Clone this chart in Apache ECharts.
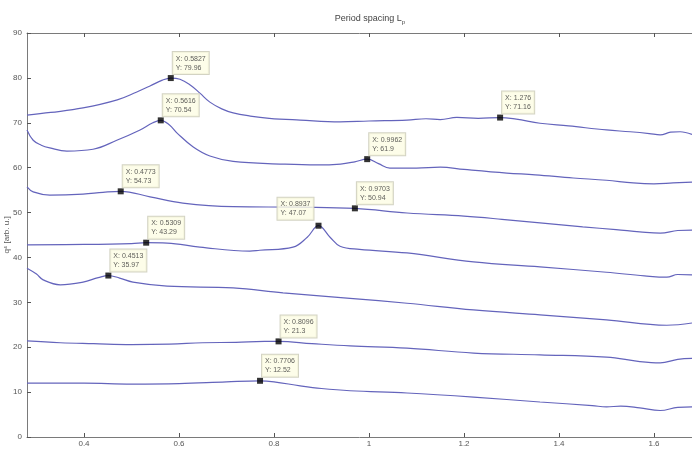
<!DOCTYPE html>
<html>
<head>
<meta charset="utf-8">
<script src="https://cdn.jsdelivr.net/npm/echarts@6/dist/echarts.min.js"></script>
<style>
  html, body { margin: 0; padding: 0; background: #fff; }
  #chart { width: 692px; height: 452px; }
</style>
</head>
<body>
<div id="chart"></div>
<script>
// curves, top to bottom (x in nm^-1, y in arb. u.)
var c1x = [0.28, 0.33, 0.398, 0.47, 0.51, 0.539, 0.565, 0.5827, 0.602, 0.625, 0.644, 0.665, 0.69, 0.714, 0.75, 0.79, 0.855, 0.939, 1.0, 1.08, 1.12, 1.15, 1.185, 1.23, 1.276, 1.31, 1.36, 1.42, 1.5, 1.55, 1.59, 1.613, 1.635, 1.655, 1.68];
var c1y = [71.7, 72.3, 73.3, 75.1, 76.8, 78.2, 79.5, 79.96, 79.7, 78.3, 76.6, 74.6, 73.1, 72.2, 71.5, 71.0, 70.6, 70.2, 70.4, 70.6, 70.9, 70.7, 71.2, 71.0, 71.16, 70.8, 69.9, 69.3, 68.4, 68.0, 67.6, 67.3, 67.9, 68.0, 67.4];

var c2x = [0.28, 0.293, 0.31, 0.328, 0.364, 0.419, 0.469, 0.518, 0.545, 0.5616, 0.58, 0.596, 0.63, 0.665, 0.714, 0.819, 0.89, 0.94, 0.97, 0.9962, 1.02, 1.044, 1.1, 1.15, 1.2, 1.29, 1.35, 1.43, 1.5, 1.556, 1.6, 1.64, 1.68];
var c2y = [68.4, 66.1, 65.0, 64.4, 63.7, 64.1, 66.1, 68.4, 70.0, 70.54, 69.5, 67.7, 64.6, 62.6, 61.4, 60.8, 60.6, 60.8, 61.3, 61.9, 60.9, 59.9, 59.9, 60.1, 59.6, 58.8, 58.4, 57.7, 57.2, 56.6, 56.4, 56.6, 56.8];

var c3x = [0.28, 0.293, 0.328, 0.398, 0.44, 0.4773, 0.539, 0.608, 0.714, 0.855, 0.9703, 1.08, 1.2, 1.28, 1.36, 1.45, 1.52, 1.57, 1.613, 1.65, 1.68];
var c3y = [55.7, 54.6, 53.9, 54.1, 54.5, 54.73, 53.5, 52.1, 51.3, 51.2, 50.94, 49.9, 49.2, 48.5, 47.7, 46.8, 46.2, 45.7, 45.4, 46.0, 46.1];

var c4x = [0.28, 0.4, 0.5, 0.5309, 0.575, 0.644, 0.749, 0.77, 0.84, 0.87, 0.8937, 0.918, 0.939, 0.98, 1.08, 1.22, 1.36, 1.5, 1.58, 1.627, 1.65, 1.68];
var c4y = [42.8, 42.9, 43.1, 43.29, 43.2, 42.3, 41.4, 41.6, 42.3, 44.5, 47.07, 44.5, 42.5, 41.8, 41.0, 39.0, 37.9, 36.7, 35.9, 35.6, 36.2, 36.1];

var c5x = [0.28, 0.3, 0.314, 0.35, 0.398, 0.43, 0.4513, 0.475, 0.503, 0.575, 0.714, 0.819, 0.96, 1.08, 1.22, 1.36, 1.5, 1.627, 1.68];
var c5y = [37.6, 36.3, 35.0, 33.9, 34.5, 35.5, 35.97, 35.4, 34.5, 33.6, 33.2, 32.1, 30.9, 29.8, 28.3, 27.2, 26.1, 24.9, 25.4];

var c6x = [0.28, 0.35, 0.42, 0.5, 0.58, 0.65, 0.72, 0.78, 0.8096, 0.88, 0.96, 1.08, 1.22, 1.36, 1.5, 1.57, 1.613, 1.65, 1.68];
var c6y = [21.4, 21.0, 20.8, 20.6, 20.7, 21.0, 21.1, 21.3, 21.3, 20.8, 20.3, 19.8, 18.7, 18.3, 17.8, 16.8, 16.5, 17.3, 17.5];

var c7x = [0.28, 0.4, 0.5, 0.6, 0.7, 0.7706, 0.8, 0.855, 0.9, 0.96, 1.08, 1.22, 1.36, 1.47, 1.5, 1.53, 1.57, 1.613, 1.65, 1.68];
var c7y = [12.0, 12.0, 11.8, 11.9, 12.3, 12.52, 12.3, 11.4, 10.8, 10.3, 9.8, 8.9, 7.8, 7.0, 6.7, 6.9, 6.5, 5.9, 6.6, 6.7];

// data tips
var tipX = [0.5827, 1.276, 0.5616, 0.9962, 0.4773, 0.9703, 0.8937, 0.5309, 0.4513, 0.8096, 0.7706];
var tipY = [79.96, 71.16, 70.54, 61.9, 54.73, 50.94, 47.07, 43.29, 35.97, 21.3, 12.52];

var xTicks = [0.4, 0.6, 0.8, 1.0, 1.2, 1.4, 1.6];

var curvesX = [c1x, c2x, c3x, c4x, c5x, c6x, c7x];
var curvesY = [c1y, c2y, c3y, c4y, c5y, c6y, c7y];

var chart = echarts.init(document.getElementById('chart'));
var FONT = 'Liberation Sans, Arial, sans-serif';

function zip(xs, ys) {
    var out = [];
    for (var i = 0; i < xs.length; i++) out.push([xs[i], ys[i]]);
    return out;
}

function fmt(v) {
    return String(Number(v.toPrecision(4)));
}

var series = [];
for (var k = 0; k < curvesX.length; k++) {
    series.push({
        type: 'line',
        data: zip(curvesX[k], curvesY[k]),
        showSymbol: false,
        smooth: 0.4,
        lineStyle: { color: '#6464bc', width: 1.2 },
        silent: true,
        z: 2
    });
}

var tipData = [];
for (var i = 0; i < tipX.length; i++) {
    var left = (tipX[i] === 0.8937);
    tipData.push({
        value: [tipX[i], tipY[i]],
        label: { position: left ? [-38, -25] : [5, -23] }
    });
}

series.push({
    type: 'scatter',
    data: tipData,
    symbol: 'rect',
    symbolSize: 6,
    itemStyle: { color: '#000' },
    z: 5,
    label: {
        show: true,
        formatter: function (p) {
            return 'X: ' + fmt(p.value[0]) + '\nY: ' + fmt(p.value[1]);
        },
        fontFamily: FONT,
        fontSize: 7,
        lineHeight: 9,
        color: '#333',
        backgroundColor: '#fcfce4',
        borderColor: '#c8c8b4',
        borderWidth: 1,
        padding: [2, 3, 2, 3]
    }
});

var option = {
    animation: false,
    backgroundColor: '#fff',
    title: {
        text: '{t|Period spacing L}{s|p}',
        left: 365,
        top: 8,
        textAlign: 'center',
        textStyle: {
            fontWeight: 'normal',
            rich: {
                t: { fontFamily: FONT, fontSize: 9, color: '#444', fontWeight: 'normal' },
                s: { fontFamily: FONT, fontSize: 6, color: '#444', fontWeight: 'normal', verticalAlign: 'bottom', padding: [6, 0, 0, 0] }
            }
        }
    },
    grid: { left: 27, top: 33, right: 0, bottom: 15, outerBoundsMode: 'none', containLabel: false },
    xAxis: [{
        type: 'value',
        min: 0.28,
        max: 1.68,
        position: 'bottom',
        axisLine: { lineStyle: { color: '#7a7a7a', width: 1 } },
        axisTick: { inside: true, length: 4, customValues: xTicks, lineStyle: { color: '#555' } },
        axisLabel: {
            customValues: xTicks,
            fontFamily: FONT, fontSize: 8, color: '#555', margin: 3,
            formatter: function (v) { return String(Number(v.toFixed(1))); }
        },
        splitLine: { show: false }
    }, {
        type: 'value',
        min: 0.28,
        max: 1.68,
        position: 'top',
        axisLine: { show: true, lineStyle: { color: '#7a7a7a', width: 1 } },
        axisTick: { inside: true, length: 4, customValues: xTicks, lineStyle: { color: '#555' } },
        axisLabel: { show: false },
        splitLine: { show: false }
    }],
    yAxis: {
        type: 'value',
        min: 0,
        max: 90,
        interval: 10,
        name: 'q\u2074 [arb. u.]',
        nameLocation: 'middle',
        nameGap: 16,
        nameMoveOverlap: false,
        nameTextStyle: { fontFamily: FONT, fontSize: 8, color: '#555' },
        axisLine: { show: true, lineStyle: { color: '#7a7a7a', width: 1 } },
        axisTick: { inside: true, length: 4, lineStyle: { color: '#555' } },
        axisLabel: { fontFamily: FONT, fontSize: 8, color: '#555', margin: 5 },
        splitLine: { show: false }
    },
    series: series
};
chart.setOption(option);
</script>
</body>
</html>
